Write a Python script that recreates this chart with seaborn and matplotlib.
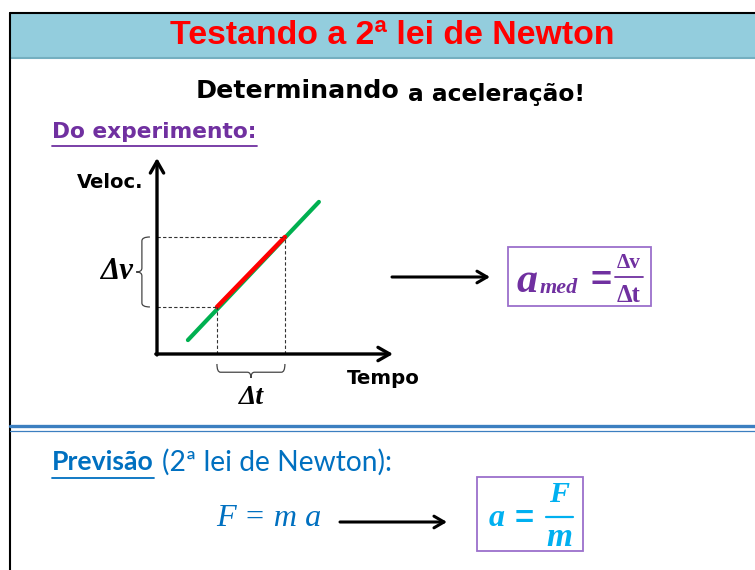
import matplotlib.pyplot as plt
import seaborn as sns
from matplotlib.patches import Rectangle, PathPatch
from matplotlib.path import Path

# grafico velocidade x tempo (unidades arbitrarias)
tempo_reta = [1.31, 6.86]
veloc_reta = [0.71, 7.76]
tempo_trecho = [2.54, 5.42]
veloc_trecho = [2.40, 5.97]

titulo = 'Testando a 2ª lei de Newton'
roxo = '#7030A0'
azul = '#0070C0'
ciano = '#00B0F0'
serif = ['Liberation Serif', 'DejaVu Serif']
calibri = ['Lato', 'DejaVu Sans']
tahoma = ['DejaVu Sans']

sns.set_theme(style='white')
plt.rcParams['font.family'] = ['Liberation Sans', 'DejaVu Sans']
plt.rcParams['text.color'] = 'black'

fig = plt.figure(figsize=(7.55, 5.70), dpi=100)
ax = fig.add_axes([0, 0, 1, 1])
ax.set_xlim(0, 755)
ax.set_ylim(570, 0)
ax.axis('off')
renderer = fig.canvas.get_renderer()


def texto(x, y, s, largura, alvo=None, **kw):
    # ajusta o tamanho da fonte para a largura medida na figura original
    t = (alvo or ax).text(x, y, s, **kw)
    bb = t.get_window_extent(renderer)
    t.set_fontsize(t.get_fontsize() * largura / bb.width)
    return t


# moldura e cabecalho
ax.add_patch(Rectangle((10, 13), 745, 45, facecolor='#93CDDD', edgecolor='none'))
ax.plot([10, 755], [58, 58], color='#74AFC0', lw=1.5)
ax.plot([10, 755], [13, 13], color='black', lw=1.5)
ax.plot([10, 10], [13, 570], color='black', lw=1.5)
texto(392, 36, titulo, 445, color='#FF0000', fontsize=25, fontweight='bold',
      ha='center', va='center')

texto(196, 91, 'Determinando', 204, fontsize=18, fontweight='bold', family=tahoma,
      ha='left', va='center')
texto(408, 94, 'a aceleração!', 177, fontsize=15, fontweight='bold', family=tahoma,
      ha='left', va='center')

texto(52, 132, 'Do experimento:', 205, color=roxo, fontsize=15.5, fontweight='bold',
      family=tahoma, ha='left', va='center')
ax.plot([52, 257], [146, 146], color=roxo, lw=1.3)

# grafico
gax = fig.add_axes([157 / 755, 1 - 354 / 570, (393 - 157) / 755, (354 - 158) / 570])
gax.set_xlim(0, 10)
gax.set_ylim(0, 10)
gax.patch.set_alpha(0)
gax.set_xticks([])
gax.set_yticks([])
for s in gax.spines.values():
    s.set_visible(False)

sns.lineplot(x=tempo_reta, y=veloc_reta, color='#00B050', lw=3, ax=gax)
sns.lineplot(x=tempo_trecho, y=veloc_trecho, color='#FF0000', lw=3.2, ax=gax)

for t, v in zip(tempo_trecho, veloc_trecho):
    gax.plot([0, t], [v, v], ls=(0, (3, 2)), lw=0.8, color='#333333', clip_on=False)
    gax.plot([t, t], [0, v], ls=(0, (3, 2)), lw=0.8, color='#333333', clip_on=False)

seta = dict(arrowstyle='->,head_length=0.7,head_width=0.4', lw=2.4, color='black',
            shrinkA=0, shrinkB=0)
gax.annotate('', xy=(1, 0), xytext=(-0.005, 0), xycoords='axes fraction', arrowprops=seta)
gax.annotate('', xy=(0, 1), xytext=(0, -0.005), xycoords='axes fraction', arrowprops=seta)


def chave_v(x, y0, y1, w, d):
    ym = (y0 + y1) / 2
    verts = [(x + w, y1), (x, y1), (x, y1 - d), (x, ym + d), (x, ym), (x - w * 0.7, ym),
             (x, ym), (x, ym - d), (x, y0 + d), (x, y0), (x + w, y0)]
    codes = [Path.MOVETO, Path.CURVE3, Path.CURVE3, Path.LINETO, Path.CURVE3, Path.CURVE3,
             Path.CURVE3, Path.CURVE3, Path.LINETO, Path.CURVE3, Path.CURVE3]
    gax.add_patch(PathPatch(Path(verts, codes), fill=False, lw=0.9, color='#444444', clip_on=False))


def chave_h(y, x0, x1, h, d):
    xm = (x0 + x1) / 2
    verts = [(x0, y + h), (x0, y), (x0 + d, y), (xm - d, y), (xm, y), (xm, y - h * 0.7),
             (xm, y), (xm + d, y), (x1 - d, y), (x1, y), (x1, y + h)]
    codes = [Path.MOVETO, Path.CURVE3, Path.CURVE3, Path.LINETO, Path.CURVE3, Path.CURVE3,
             Path.CURVE3, Path.CURVE3, Path.LINETO, Path.CURVE3, Path.CURVE3]
    gax.add_patch(PathPatch(Path(verts, codes), fill=False, lw=0.9, color='#444444', clip_on=False))


chave_v(-0.64, veloc_trecho[0], veloc_trecho[1], 0.34, 0.2)
chave_h(-0.93, tempo_trecho[0], tempo_trecho[1], 0.42, 0.15)

texto(-1.7, sum(veloc_trecho) / 2, 'Δv', 33, alvo=gax, fontsize=15, fontweight='bold',
      style='italic', family=serif, ha='center', va='center')
texto(sum(tempo_trecho) / 2, -2.2, 'Δt', 25, alvo=gax, fontsize=15, fontweight='bold',
      style='italic', family=serif, ha='center', va='center')

texto(77, 182, 'Veloc.', 66, fontsize=13.5, fontweight='bold', family=tahoma,
      ha='left', va='center')
texto(347, 378, 'Tempo', 73, fontsize=14, fontweight='bold', family=tahoma,
      ha='left', va='center')

# seta e caixa da aceleracao media
seta2 = dict(arrowstyle='->,head_length=0.6,head_width=0.35', lw=2.2, color='black',
             shrinkA=0, shrinkB=0)
ax.annotate('', xy=(490, 277), xytext=(392, 277), arrowprops=seta2)
ax.add_patch(Rectangle((508, 247), 143, 59, facecolor='none', edgecolor='#9B6FCB', lw=1.3))
texto(527, 292, 'a', 21, color=roxo, fontsize=27, fontweight='bold', style='italic',
      family=serif, ha='center', va='baseline')
texto(559, 293, 'med', 38, color=roxo, fontsize=16, fontweight='bold', style='italic',
      family=serif, ha='center', va='baseline')
texto(601, 281, '=', 21, color=roxo, fontsize=22, fontweight='bold', ha='center', va='center')
texto(629, 263, 'Δv', 24, color=roxo, fontsize=14, fontweight='bold', family=serif,
      ha='center', va='center')
ax.plot([615, 643], [277, 277], color=roxo, lw=1.3)
texto(629, 295, 'Δt', 24, color=roxo, fontsize=14, fontweight='bold', family=serif,
      ha='center', va='center')

# separador
ax.plot([10, 755], [425.5, 425.5], color='#3C7FC0', lw=2.4)
ax.plot([10, 755], [430.5, 430.5], color='#3C7FC0', lw=0.9)

# previsao
texto(52, 462, 'Previsão', 102, color=azul, fontsize=16, fontweight='bold',
      family=calibri, ha='left', va='center')
ax.plot([52, 154], [478, 478], color=azul, lw=1.3)
texto(162, 462, '(2ª lei de Newton):', 230, color=azul, fontsize=16,
      family=calibri, ha='left', va='center')

texto(269, 519, 'F = m a', 105, color=azul, fontsize=19, style='italic', family=serif,
      ha='center', va='center')
ax.annotate('', xy=(447, 522), xytext=(340, 522), arrowprops=seta2)
ax.add_patch(Rectangle((477, 477), 106, 74, facecolor='none', edgecolor='#9B6FCB', lw=1.3))
texto(497, 518, 'a', 16, color=ciano, fontsize=22, fontweight='bold', style='italic',
      family=serif, ha='center', va='center')
texto(524, 520, '=', 19, color=ciano, fontsize=20, fontweight='bold', ha='center', va='center')
texto(559, 495, 'F', 20, color=ciano, fontsize=20, fontweight='bold', style='italic',
      family=serif, ha='center', va='center')
ax.plot([546, 573], [517, 517], color=ciano, lw=1.6)
texto(559, 537, 'm', 26, color=ciano, fontsize=20, fontweight='bold', style='italic',
      family=serif, ha='center', va='center')

fig.savefig('out.png', dpi=100)
